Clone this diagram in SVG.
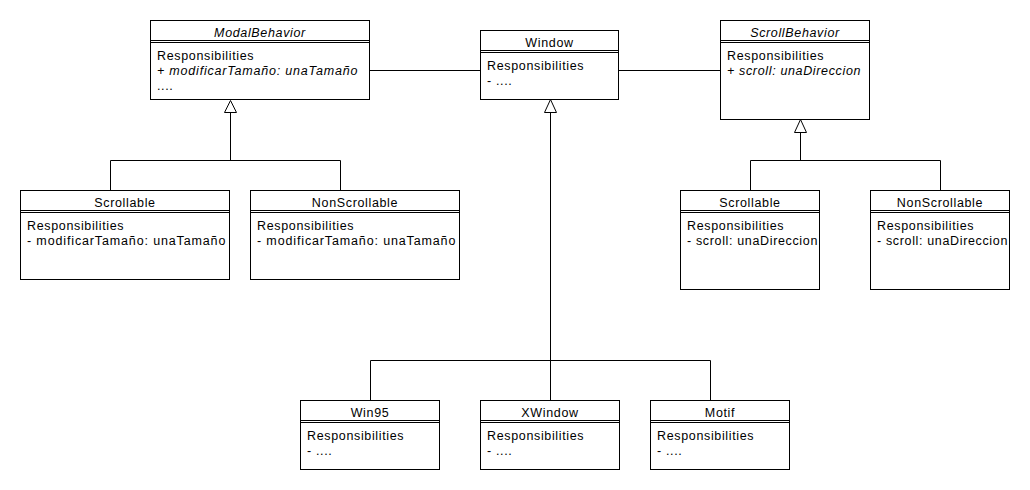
<svg xmlns="http://www.w3.org/2000/svg" width="1030" height="490" viewBox="0 0 1030 490">
<style>
.box{fill:#fff;stroke:#000;stroke-width:1}
.sep{stroke:#000;stroke-width:1;fill:none}
.t{font-family:"Liberation Sans",Arial,sans-serif;font-size:12.5px;letter-spacing:0.65px;fill:#000}
.h{text-anchor:middle}
.i{font-style:italic}
.c{stroke:#000;stroke-width:1;fill:none}
.tri{fill:#fff;stroke:#000;stroke-width:1}
</style>
<rect width="1030" height="490" fill="#fff"/>
<g id="connectors">
<path class="c" d="M369.5 70.5H480.5M618.5 70.5H720.5"/>
<path class="c" d="M230.5 112.5V160.5M110.5 190.5V160.5H340.5V190.5"/>
<polygon class="tri" points="230.5,100.5 224.5,112.5 236.5,112.5"/>
<path class="c" d="M550.5 112.5V400.5M370.5 400.5V360.5H710.5V400.5"/>
<polygon class="tri" points="550.5,99.5 544.5,112.5 556.5,112.5"/>
<path class="c" d="M800.5 132.5V160.5M750.5 190.5V160.5H940.5V190.5"/>
<polygon class="tri" points="800.5,119.5 794.5,132.5 806.5,132.5"/>
</g>
<g id="ModalBehavior">
<rect class="box" x="150.5" y="20.5" width="219" height="79"/>
<path class="sep" d="M150.5 40.5H369.5M150.5 42.5H369.5"/>
<text class="t h i" x="260" y="36.5">ModalBehavior</text>
<text class="t" x="157" y="60">Responsibilities</text>
<text class="t i" x="157" y="75" textLength="201" lengthAdjust="spacing">+ modificarTamaño: unaTamaño</text>
<text class="t" x="157" y="90">....</text>
</g>
<g id="Window">
<rect class="box" x="480.5" y="30.5" width="138" height="69"/>
<path class="sep" d="M480.5 50.5H618.5M480.5 52.5H618.5"/>
<text class="t h" x="549.5" y="46.5">Window</text>
<text class="t" x="487" y="70">Responsibilities</text>
<text class="t" x="487" y="85">- ....</text>
</g>
<g id="ScrollBehavior">
<rect class="box" x="720.5" y="20.5" width="149" height="99"/>
<path class="sep" d="M720.5 40.5H869.5M720.5 42.5H869.5"/>
<text class="t h i" x="795" y="36.5">ScrollBehavior</text>
<text class="t" x="727" y="60">Responsibilities</text>
<text class="t i" x="727" y="75">+ scroll: unaDireccion</text>
</g>
<g id="ScrollableModal">
<rect class="box" x="20.5" y="190.5" width="209" height="89"/>
<path class="sep" d="M20.5 210.5H229.5M20.5 212.5H229.5"/>
<text class="t h" x="125" y="206.5">Scrollable</text>
<text class="t" x="27" y="230">Responsibilities</text>
<text class="t" x="27" y="245" textLength="199" lengthAdjust="spacing">- modificarTamaño: unaTamaño</text>
</g>
<g id="NonScrollableModal">
<rect class="box" x="250.5" y="190.5" width="209" height="89"/>
<path class="sep" d="M250.5 210.5H459.5M250.5 212.5H459.5"/>
<text class="t h" x="355" y="206.5">NonScrollable</text>
<text class="t" x="257" y="230">Responsibilities</text>
<text class="t" x="257" y="245" textLength="199" lengthAdjust="spacing">- modificarTamaño: unaTamaño</text>
</g>
<g id="ScrollableScroll">
<rect class="box" x="680.5" y="190.5" width="139" height="99"/>
<path class="sep" d="M680.5 210.5H819.5M680.5 212.5H819.5"/>
<text class="t h" x="750" y="206.5">Scrollable</text>
<text class="t" x="687" y="230">Responsibilities</text>
<text class="t" x="687" y="245">- scroll: unaDireccion</text>
</g>
<g id="NonScrollableScroll">
<rect class="box" x="870.5" y="190.5" width="139" height="99"/>
<path class="sep" d="M870.5 210.5H1009.5M870.5 212.5H1009.5"/>
<text class="t h" x="940" y="206.5">NonScrollable</text>
<text class="t" x="877" y="230">Responsibilities</text>
<text class="t" x="877" y="245">- scroll: unaDireccion</text>
</g>
<g id="Win95">
<rect class="box" x="300.5" y="400.5" width="139" height="69"/>
<path class="sep" d="M300.5 420.5H439.5M300.5 422.5H439.5"/>
<text class="t h" x="370" y="416.5">Win95</text>
<text class="t" x="307" y="440">Responsibilities</text>
<text class="t" x="307" y="455">- ....</text>
</g>
<g id="XWindow">
<rect class="box" x="480.5" y="400.5" width="139" height="69"/>
<path class="sep" d="M480.5 420.5H619.5M480.5 422.5H619.5"/>
<text class="t h" x="550" y="416.5">XWindow</text>
<text class="t" x="487" y="440">Responsibilities</text>
<text class="t" x="487" y="455">- ....</text>
</g>
<g id="Motif">
<rect class="box" x="650.5" y="400.5" width="139" height="69"/>
<path class="sep" d="M650.5 420.5H789.5M650.5 422.5H789.5"/>
<text class="t h" x="720" y="416.5">Motif</text>
<text class="t" x="657" y="440">Responsibilities</text>
<text class="t" x="657" y="455">- ....</text>
</g>
</svg>
